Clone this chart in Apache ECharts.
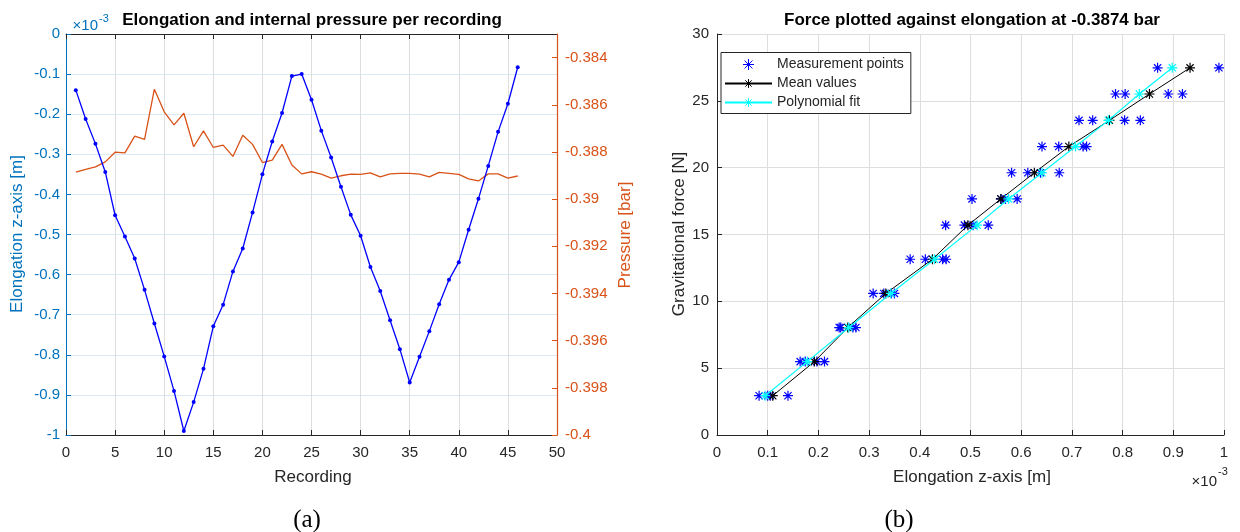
<!DOCTYPE html>
<html>
<head>
<meta charset="utf-8">
<style>
html,body{margin:0;padding:0;background:#fff;}
#chart{width:1240px;height:532px;}
</style>
<script src="https://cdn.jsdelivr.net/npm/echarts@6/dist/echarts.min.js"></script>
</head>
<body>
<div id="chart"></div>
<script>
// ---- Chart (a): elongation (x10^-3 m) and pressure (bar) per recording ----
const recordings = [1,2,3,4,5,6,7,8,9,10,11,12,13,14,15,16,17,18,19,20,21,22,23,24,25,26,27,28,29,30,31,32,33,34,35,36,37,38,39,40,41,42,43,44,45,46];
const elongation = [-0.140,-0.212,-0.274,-0.344,-0.452,-0.505,-0.560,-0.638,-0.722,-0.804,-0.890,-0.990,-0.918,-0.835,-0.729,-0.675,-0.592,-0.535,-0.445,-0.350,-0.268,-0.197,-0.105,-0.100,-0.164,-0.241,-0.308,-0.381,-0.451,-0.503,-0.581,-0.641,-0.714,-0.786,-0.869,-0.805,-0.741,-0.674,-0.613,-0.569,-0.488,-0.411,-0.329,-0.244,-0.174,-0.083];
const pressure = [-0.38886,-0.38874,-0.38863,-0.38842,-0.38801,-0.38804,-0.38733,-0.38747,-0.38534,-0.38630,-0.38685,-0.38636,-0.38778,-0.38711,-0.38781,-0.38771,-0.38819,-0.38729,-0.38768,-0.38845,-0.38835,-0.38768,-0.38855,-0.38893,-0.38884,-0.38894,-0.38911,-0.38901,-0.38894,-0.38895,-0.38889,-0.38906,-0.38893,-0.38891,-0.38891,-0.38894,-0.38906,-0.38887,-0.38891,-0.38895,-0.38914,-0.38923,-0.38893,-0.38893,-0.38911,-0.38902];

// ---- Chart (b): force (N) against elongation (x10^-3 m) ----
const measForce = [2.94,2.94,2.94,2.94, 5.49,5.49,5.49,5.49, 8.04,8.04,8.04,8.04, 10.59,10.59,10.59,10.59, 13.15,13.15,13.15,13.15, 15.70,15.70,15.70,15.70, 17.66,17.66,17.66,17.66, 19.62,19.62,19.62,19.62, 21.58,21.58,21.58,21.58, 23.54,23.54,23.54,23.54, 25.51,25.51,25.51,25.51, 27.47,27.47];
const measElong = [0.140,0.105,0.100,0.083, 0.212,0.197,0.164,0.174, 0.274,0.268,0.241,0.244, 0.344,0.350,0.308,0.329, 0.452,0.445,0.381,0.411, 0.505,0.535,0.451,0.488, 0.560,0.592,0.503,0.569, 0.638,0.675,0.581,0.613, 0.722,0.729,0.641,0.674, 0.804,0.835,0.714,0.741, 0.890,0.918,0.786,0.805, 0.990,0.869];
const levelForce = [2.94,5.49,8.04,10.59,13.15,15.70,17.66,19.62,21.58,23.54,25.51,27.47];
const meanElong = [0.110,0.192,0.258,0.333,0.425,0.495,0.560,0.626,0.694,0.774,0.853,0.933];
const fitElong = [0.095,0.178,0.260,0.343,0.429,0.513,0.575,0.641,0.707,0.772,0.833,0.898];

const FONT = 'Liberation Sans, Arial, sans-serif';
const DARK = '#262626';
const BLUEAX = '#0072BD';
const ORANGE = '#D95319';
const GRIDGRAY = '#dedede';
const GRIDBLUE = '#d9eaf5';
const STAR = 'path://M5,0L5,10M0,5L10,5M1.4,1.4L8.6,8.6M1.4,8.6L8.6,1.4';

const zip = (a, b) => a.map((v, i) => [v, b[i]]);

const chart = echarts.init(document.getElementById('chart'), null, {renderer: 'canvas'});

function txt(x, y, text, size, color, opts) {
  opts = opts || {};
  return {
    type: 'text', x: x, y: y, rotation: opts.rot || 0, silent: true,
    style: {
      text: text, fill: color, font: (opts.bold ? 'bold ' : '') + size + 'px ' + (opts.family || FONT),
      align: opts.align || 'center', verticalAlign: 'middle'
    }
  };
}

const option = {
  animation: false,
  backgroundColor: '#fff',
  textStyle: {fontFamily: FONT},
  grid: [
    {left: 66, top: 34, width: 491, height: 401},
    {left: 717, top: 34, width: 507, height: 401}
  ],
  legend: {
    left: 721, top: 52.5, orient: 'vertical',
    itemWidth: 47, itemHeight: 11, itemGap: 5,
    padding: [5, 7, 4, 3],
    borderColor: DARK, borderWidth: 1, borderRadius: 0,
    backgroundColor: '#fff',
    itemStyle: {borderWidth: 1},
    textStyle: {fontFamily: FONT, fontSize: 14, color: DARK, lineHeight: 14},
    data: ['Measurement points', 'Mean values', 'Polynomial fit']
  },
  xAxis: [
    {
      gridIndex: 0, type: 'value', min: 0, max: 50, interval: 5, position: 'bottom',
      axisLine: {onZero: false, lineStyle: {color: DARK, width: 1}},
      axisTick: {inside: true, length: 5, lineStyle: {color: DARK}},
      axisLabel: {color: DARK, fontSize: 15, fontFamily: FONT, margin: 10},
      splitLine: {show: true, showMinLine: false, showMaxLine: false, lineStyle: {color: GRIDGRAY, width: 1}}
    },
    {
      gridIndex: 0, type: 'value', min: 0, max: 50, interval: 5, position: 'top',
      axisLine: {show: true, onZero: false, lineStyle: {color: DARK, width: 1}},
      axisTick: {inside: true, length: 5, lineStyle: {color: DARK}},
      axisLabel: {show: false},
      splitLine: {show: false}
    },
    {
      gridIndex: 1, type: 'value', min: 0, max: 1, interval: 0.1, position: 'bottom',
      axisLine: {onZero: false, lineStyle: {color: DARK, width: 1}},
      axisTick: {inside: true, length: 5, lineStyle: {color: DARK}},
      axisLabel: {color: DARK, fontSize: 15, fontFamily: FONT, margin: 10,
        formatter: v => String(Math.round(v * 10) / 10)},
      splitLine: {show: true, lineStyle: {color: GRIDGRAY, width: 1}}
    }
  ],
  yAxis: [
    {
      gridIndex: 0, type: 'value', min: -1, max: 0, interval: 0.1, position: 'left',
      axisLine: {show: true, onZero: false, lineStyle: {color: BLUEAX, width: 1}},
      axisTick: {show: true, inside: true, length: 5, lineStyle: {color: BLUEAX}},
      axisLabel: {color: BLUEAX, fontSize: 15, fontFamily: FONT, margin: 6,
        formatter: v => String(Math.round(v * 10) / 10)},
      splitLine: {show: true, showMinLine: false, showMaxLine: false, lineStyle: {color: GRIDBLUE, width: 1}}
    },
    {
      gridIndex: 0, type: 'value', min: -0.4, max: -0.383, interval: 0.002, position: 'right', z: 5,
      axisLine: {show: true, onZero: false, lineStyle: {color: ORANGE, width: 1.2}},
      axisTick: {show: true, inside: true, length: 5, lineStyle: {color: ORANGE}},
      axisLabel: {color: ORANGE, fontSize: 15, fontFamily: FONT, margin: 8, showMaxLabel: false,
        formatter: v => String(Math.round(v * 1000) / 1000)},
      splitLine: {show: false}
    },
    {
      gridIndex: 1, type: 'value', min: 0, max: 30, interval: 5, position: 'left',
      axisLine: {show: true, onZero: false, lineStyle: {color: DARK, width: 1}},
      axisTick: {show: true, inside: true, length: 5, lineStyle: {color: DARK}},
      axisLabel: {color: DARK, fontSize: 15, fontFamily: FONT, margin: 8},
      splitLine: {show: true, lineStyle: {color: GRIDGRAY, width: 1}}
    }
  ],
  series: [
    {
      name: 'Pressure', type: 'line', xAxisIndex: 0, yAxisIndex: 1,
      data: zip(recordings, pressure), showSymbol: false, symbol: 'none',
      lineStyle: {color: ORANGE, width: 1.3}, itemStyle: {color: ORANGE}, z: 2
    },
    {
      name: 'Elongation', type: 'line', xAxisIndex: 0, yAxisIndex: 0,
      data: zip(recordings, elongation), symbol: 'circle', symbolSize: 4,
      lineStyle: {color: '#0000FF', width: 1.3}, itemStyle: {color: '#0000FF'}, z: 3
    },
    {
      name: 'Measurement points', type: 'scatter', xAxisIndex: 2, yAxisIndex: 2,
      data: zip(measElong, measForce), symbol: STAR, symbolSize: 10,
      itemStyle: {color: 'rgba(0,0,0,0)', borderColor: '#0000FF', borderWidth: 1.2, opacity: 1}, z: 3
    },
    {
      name: 'Mean values', type: 'line', xAxisIndex: 2, yAxisIndex: 2,
      data: zip(meanElong, levelForce), symbol: STAR, symbolSize: 10,
      lineStyle: {color: '#000000', width: 1}, itemStyle: {color: 'rgba(0,0,0,0)', borderColor: '#000000', borderWidth: 1.2}, z: 4
    },
    {
      name: 'Polynomial fit', type: 'line', xAxisIndex: 2, yAxisIndex: 2,
      data: zip(fitElong, levelForce), symbol: STAR, symbolSize: 10,
      lineStyle: {color: '#00FFFF', width: 1.2}, itemStyle: {color: 'rgba(0,0,0,0)', borderColor: '#00FFFF', borderWidth: 1.2}, z: 5
    }
  ],
  graphic: [
    txt(312, 20, 'Elongation and internal pressure per recording', 17, '#000', {bold: true}),
    txt(972, 20, 'Force plotted against elongation at -0.3874 bar', 17, '#000', {bold: true}),
    txt(98, 26, '\u00d710', 15, BLUEAX, {align: 'right'}),
    txt(99, 19, '-3', 11, BLUEAX, {align: 'left'}),
    txt(17.5, 234, 'Elongation z-axis [m]', 17, BLUEAX, {rot: Math.PI / 2}),
    txt(625, 235, 'Pressure [bar]', 17, ORANGE, {rot: Math.PI / 2}),
    txt(313, 477, 'Recording', 17, DARK),
    txt(679, 234, 'Gravitational force [N]', 17, DARK, {rot: Math.PI / 2}),
    txt(972, 477, 'Elongation z-axis [m]', 17, DARK),
    txt(1217, 482, '\u00d710', 15, DARK, {align: 'right'}),
    txt(1218, 472, '-3', 11, DARK, {align: 'left'}),
    txt(307, 520, '(a)', 25, '#000', {family: 'Liberation Serif, serif'}),
    txt(899, 520, '(b)', 25, '#000', {family: 'Liberation Serif, serif'})
  ]
};

chart.setOption(option);
</script>
</body>
</html>
